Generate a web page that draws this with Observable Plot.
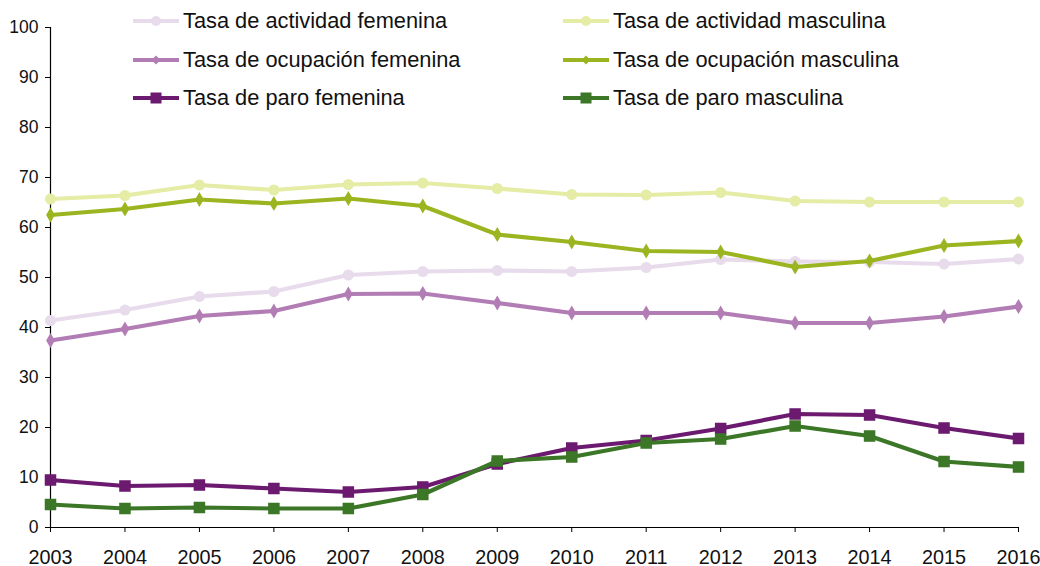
<!DOCTYPE html>
<html><head><meta charset="utf-8">
<script src="https://cdn.jsdelivr.net/npm/d3@7"></script>
<script src="https://cdn.jsdelivr.net/npm/@observablehq/plot@0.6"></script>
<style>
body{margin:0;background:#fff;font-family:"Liberation Sans",Arial,sans-serif}
#wrap{position:relative;width:1040px;height:566px}
.leg{position:absolute;display:flex;align-items:center;font-size:21.8px;color:#111;white-space:nowrap;line-height:1}
.leg svg{margin-right:4px}
</style></head>
<body><div id="wrap"></div>
<script>
const years = [2003,2004,2005,2006,2007,2008,2009,2010,2011,2012,2013,2014,2015,2016];
const seriesNames = [
  "Tasa de actividad femenina","Tasa de ocupación femenina","Tasa de paro femenina",
  "Tasa de actividad masculina","Tasa de ocupación masculina","Tasa de paro masculina"
];
const actividadFemenina = [41.4,43.5,46.2,47.2,50.5,51.2,51.4,51.2,52.0,53.6,53.2,53.1,52.7,53.7];
const ocupacionFemenina = [37.4,39.7,42.3,43.3,46.7,46.8,44.9,42.9,42.9,42.9,40.9,40.9,42.2,44.2];
const paroFemenina      = [9.5,8.3,8.5,7.8,7.1,8.1,12.7,15.9,17.4,19.8,22.7,22.5,19.9,17.8];
const actividadMasculina = [65.7,66.4,68.5,67.5,68.6,68.9,67.8,66.6,66.5,67.0,65.3,65.1,65.1,65.1];
const ocupacionMasculina = [62.5,63.7,65.6,64.8,65.8,64.3,58.6,57.1,55.3,55.1,52.1,53.3,56.4,57.3];
const paroMasculina      = [4.6,3.8,4.0,3.8,3.8,6.6,13.3,14.1,16.9,17.7,20.3,18.3,13.2,12.1];
const colors = ["#e8dcec","#b27db5","#6b1a6f","#e4eca5","#9bb521","#3b7726"];
const symbols = ["circle","diamond","square","circle","diamond","square"];
const yTicks = [0,10,20,30,40,50,60,70,80,90,100];

const allValues = [actividadFemenina,ocupacionFemenina,paroFemenina,actividadMasculina,ocupacionMasculina,paroMasculina];
const data = [];
allValues.forEach((vals,i)=>vals.forEach((v,j)=>data.push({serie:seriesNames[i],year:years[j],value:v})));

const marks = [
  Plot.ruleX([2003],{stroke:"#000",strokeWidth:1.2}),
  Plot.ruleY([0],{stroke:"#000",strokeWidth:1.2}),
  Plot.axisY({ticks:yTicks,tickSize:5,tickPadding:7,fontSize:17.5,color:"#111",label:null,stroke:"#000"}),
  Plot.axisX({ticks:years,tickFormat:"d",tickSize:5,tickPadding:17,fontSize:19.8,color:"#111",label:null,stroke:"#000"})
];
seriesNames.forEach((s,i)=>{
  const d = data.filter(r=>r.serie===s);
  marks.push(Plot.line(d,{x:"year",y:"value",stroke:colors[i],strokeWidth:4.2,strokeLinejoin:"round"}));
  const r = symbols[i]==="square"?6.5:(symbols[i]==="diamond"?4.6:5.5);
  marks.push(Plot.dot(d,{x:"year",y:"value",fill:colors[i],stroke:"none",symbol:()=>symbols[i],r}));
});

const chart = Plot.plot({
  width:1040,height:566,
  marginLeft:50,marginRight:22,marginTop:27,marginBottom:39,
  x:{domain:[2003,2016]},
  y:{domain:[0,100]},
  style:{fontFamily:"'Liberation Sans',Arial,sans-serif",background:"#fff",overflow:"visible"},
  marks
});
const wrap = document.getElementById("wrap");
wrap.appendChild(chart);

// legend overlay
const legPos = [[133,21],[133,60],[133,98],[563,21],[563,60],[563,98]];
seriesNames.forEach((s,i)=>{
  const div = document.createElement("div");
  div.className="leg";
  div.style.left=legPos[i][0]+"px";
  div.style.top=(legPos[i][1]-11)+"px";
  div.style.height="22px";
  const c=colors[i];
  let marker;
  if(symbols[i]==="circle") marker=`<circle cx="23" cy="11" r="5" fill="${c}"/>`;
  else if(symbols[i]==="diamond") marker=`<path d="M23 6.5 L27.5 11 L23 15.5 L18.5 11Z" fill="${c}"/>`;
  else marker=`<rect x="17.5" y="5.5" width="11" height="11" fill="${c}"/>`;
  div.innerHTML=`<svg width="46" height="22"><line x1="0" x2="46" y1="11" y2="11" stroke="${c}" stroke-width="4.2" stroke-linecap="round"/>${marker}</svg><span>${s}</span>`;
  wrap.appendChild(div);
});
</script></body></html>
